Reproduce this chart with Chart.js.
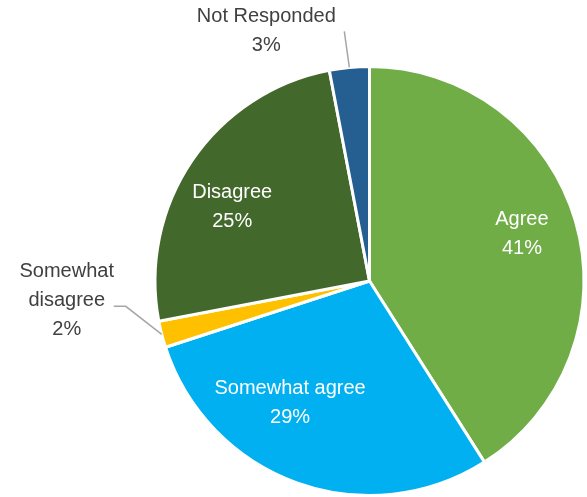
<!DOCTYPE html>
<html>
<head>
<meta charset="utf-8">
<script src="https://cdn.jsdelivr.net/npm/chart.js@4/dist/chart.umd.min.js"></script>
<style>
  html, body { margin: 0; padding: 0; background: #fff; }
  canvas { display: block; }
</style>
</head>
<body>
<canvas id="surveyPie" width="587" height="497"></canvas>
<script>
const categories = ['Agree', 'Somewhat agree', 'Somewhat disagree', 'Disagree', 'Not Responded'];
const percentages = [41, 29, 2, 25, 3];
const sliceColors = ['#70AD47', '#00B0F0', '#FFC000', '#43682B', '#255E91'];
// label text lines per slice
const labelLines = [
  ['Agree', '41%'],
  ['Somewhat agree', '29%'],
  ['Somewhat', 'disagree', '2%'],
  ['Disagree', '25%'],
  ['Not Responded', '3%']
];

const FONT = '20px "Liberation Sans", Arial, sans-serif';
const LINE_H = 29;

// inside labels sit at a fraction of the radius (plus a nudge),
// outside labels get a leader line to a text block
const placement = [
  { inside: true, r: 0.74, nudge: [0, -3] },
  { inside: true, r: 0.68, nudge: [-30, -15] },
  { inside: false, elbow: [-36, -28], tail: 12, textDx: -59, textDy: -6 },
  { inside: true, r: 0.74, nudge: [-6, 15] },
  { inside: false, elbow: [-5, -36], tail: 0, textDx: -78, textDy: 0 }
];

const labelPlugin = {
  id: 'sliceLabels',
  afterDatasetsDraw(chart) {
    const ctx = chart.ctx;
    const arcs = chart.getDatasetMeta(0).data;
    ctx.save();
    ctx.font = FONT;
    ctx.textAlign = 'center';
    ctx.textBaseline = 'middle';
    arcs.forEach((arc, i) => {
      const p = placement[i];
      const mid = (arc.startAngle + arc.endAngle) / 2;
      const lines = labelLines[i];
      let cx, cy;
      if (p.inside) {
        cx = arc.x + Math.cos(mid) * arc.outerRadius * p.r + p.nudge[0];
        cy = arc.y + Math.sin(mid) * arc.outerRadius * p.r + p.nudge[1];
        ctx.fillStyle = '#ffffff';
      } else {
        const ex = arc.x + Math.cos(mid) * arc.outerRadius;
        const ey = arc.y + Math.sin(mid) * arc.outerRadius;
        const kx = ex + p.elbow[0];
        const ky = ey + p.elbow[1];
        ctx.strokeStyle = '#A6A6A6';
        ctx.lineWidth = 1.5;
        ctx.beginPath();
        ctx.moveTo(ex, ey);
        ctx.lineTo(kx, ky);
        if (p.tail) ctx.lineTo(kx - p.tail, ky);
        ctx.stroke();
        cx = kx + p.textDx;
        cy = ky + p.textDy;
        ctx.fillStyle = '#404040';
      }
      const top = cy - (lines.length - 1) * LINE_H / 2;
      lines.forEach((t, k) => ctx.fillText(t, cx, top + k * LINE_H));
    });
    ctx.restore();
  }
};

new Chart(document.getElementById('surveyPie').getContext('2d'), {
  type: 'pie',
  data: {
    labels: categories,
    datasets: [{
      data: percentages,
      backgroundColor: sliceColors,
      borderColor: '#ffffff',
      borderWidth: 3
    }]
  },
  options: {
    responsive: false,
    animation: false,
    layout: { padding: { left: 152, right: 0, top: 65, bottom: -3 } },
    plugins: {
      legend: { display: false },
      tooltip: { enabled: false }
    }
  },
  plugins: [labelPlugin]
});
</script>
</body>
</html>
